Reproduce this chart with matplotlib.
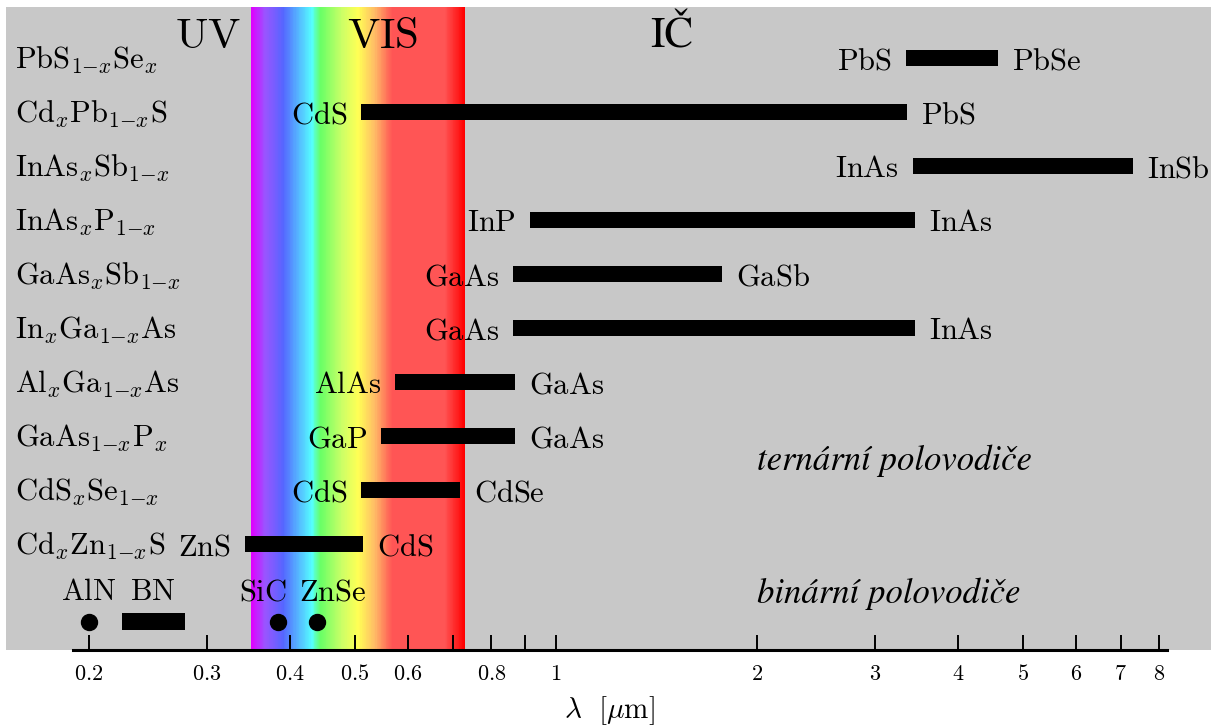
import numpy as np
import matplotlib
matplotlib.use("Agg")
import matplotlib.pyplot as plt
from matplotlib.colors import LinearSegmentedColormap

plt.rcParams["mathtext.fontset"] = "cm"

# ternary semiconductors, top row first
TERNARY_NAMES = [
    r"$\mathrm{PbS}_{1{-}x}\mathrm{Se}_x$",
    r"$\mathrm{Cd}_x\mathrm{Pb}_{1{-}x}\mathrm{S}$",
    r"$\mathrm{InAs}_x\mathrm{Sb}_{1{-}x}$",
    r"$\mathrm{InAs}_x\mathrm{P}_{1{-}x}$",
    r"$\mathrm{GaAs}_x\mathrm{Sb}_{1{-}x}$",
    r"$\mathrm{In}_x\mathrm{Ga}_{1{-}x}\mathrm{As}$",
    r"$\mathrm{Al}_x\mathrm{Ga}_{1{-}x}\mathrm{As}$",
    r"$\mathrm{GaAs}_{1{-}x}\mathrm{P}_x$",
    r"$\mathrm{CdS}_x\mathrm{Se}_{1{-}x}$",
    r"$\mathrm{Cd}_x\mathrm{Zn}_{1{-}x}\mathrm{S}$",
]
TERNARY_START = [3.34, 0.511, 3.42, 0.914, 0.862, 0.862, 0.574, 0.547, 0.511, 0.342]
TERNARY_END = [4.59, 3.35, 7.30, 3.45, 1.77, 3.45, 0.868, 0.868, 0.718, 0.514]
START_LABELS = ["PbS", "CdS", "InAs", "InP", "GaAs", "GaAs", "AlAs", "GaP", "CdS", "ZnS"]
END_LABELS = ["PbSe", "PbS", "InSb", "InAs", "GaSb", "InAs", "GaAs", "GaAs", "CdSe", "CdS"]

# binary semiconductors
DOT_NAMES = ["AlN", "SiC", "ZnSe"]
DOT_LAMBDA = [0.200, 0.384, 0.439]
BN_NAME = "BN"
BN_RANGE = [0.224, 0.278]

# visible spectrum colour stops
SPECTRUM_LAMBDA = [0.3495, 0.3667, 0.3903, 0.4312, 0.4432, 0.4782, 0.5053, 0.5358, 0.5682, 0.682, 0.731]
SPECTRUM_COLORS = ["#e000ff", "#9955ff", "#5566ff", "#55ffff", "#66ff66", "#ccff66",
                   "#ffff55", "#ffbb66", "#ff5555", "#ff5555", "#ff0000"]

REGION_NAMES = ["UV", "VIS", "IČ"]
REGION_LAMBDA = [0.301, 0.551, 1.49]

TICK_VALUES = [0.2, 0.3, 0.4, 0.5, 0.6, 0.7, 0.8, 0.9, 1, 2, 3, 4, 5, 6, 7, 8]
TICK_LABELS = ["0.2", "0.3", "0.4", "0.5", "0.6", "", "0.8", "", "1",
               "2", "3", "4", "5", "6", "7", "8"]

GRAY = "#c8c8c8"
LABEL_SIZE = 22
BASE = 0.205  # baseline shift below row centre (data units)

fig = plt.figure(figsize=(12.18, 7.27), dpi=100)
ax = fig.add_axes([6 / 1218, 77 / 727, 1205 / 1218, 643 / 727])
ax.set_facecolor(GRAY)
ax.set_xscale("log")
ax.set_xlim(0.1502, 9.562)
ax.set_ylim(10.963, -0.944)

# spectrum band
lo, hi = SPECTRUM_LAMBDA[0], SPECTRUM_LAMBDA[-1]
lg = np.log10(SPECTRUM_LAMBDA)
stops = [((v - lg[0]) / (lg[-1] - lg[0]), c) for v, c in zip(lg, SPECTRUM_COLORS)]
cmap = LinearSegmentedColormap.from_list("spec", stops)
xe = np.geomspace(lo, hi, 400)
xc = np.sqrt(xe[:-1] * xe[1:])
vals = ((np.log10(xc) - lg[0]) / (lg[-1] - lg[0]))[None, :]
ax.pcolormesh(xe, [-0.944, 10.963], vals, cmap=cmap, vmin=0, vmax=1,
              shading="flat", zorder=0.5, rasterized=True)

rows = np.arange(len(TERNARY_NAMES))
ax.barh(rows, np.array(TERNARY_END) - np.array(TERNARY_START), left=TERNARY_START,
        height=0.31, color="black", zorder=3)

ytrans = ax.get_yaxis_transform()
for i, name in enumerate(TERNARY_NAMES):
    ax.text(0.0075, i + BASE, name, transform=ytrans, fontsize=LABEL_SIZE,
            ha="left", va="baseline")
    ax.annotate(r"$\mathrm{%s}$" % START_LABELS[i], (TERNARY_START[i], i + BASE),
                xytext=(-10, 0), textcoords="offset points", fontsize=LABEL_SIZE,
                ha="right", va="baseline")
    ax.annotate(r"$\mathrm{%s}$" % END_LABELS[i], (TERNARY_END[i], i + BASE),
                xytext=(10, 0), textcoords="offset points", fontsize=LABEL_SIZE,
                ha="left", va="baseline")

# binary row
bin_y = 10.44
bin_label_y = 10.04
ax.plot(DOT_LAMBDA, [bin_y] * len(DOT_LAMBDA), "o", color="black", ms=11.5, zorder=3)
ax.barh([bin_y], [BN_RANGE[1] - BN_RANGE[0]], left=BN_RANGE[0], height=0.32,
        color="black", zorder=3)
dot_shift = [0, -11, 11]
for name, lam, dx in zip(DOT_NAMES, DOT_LAMBDA, dot_shift):
    ax.annotate(r"$\mathrm{%s}$" % name, (lam, bin_label_y), xytext=(dx, 0),
                textcoords="offset points", fontsize=LABEL_SIZE, ha="center",
                va="baseline")
ax.text(np.sqrt(BN_RANGE[0] * BN_RANGE[1]), bin_label_y, r"$\mathrm{%s}$" % BN_NAME,
        fontsize=LABEL_SIZE, ha="center", va="baseline")

# region names; Č is missing from the cm math font, so IČ uses STIX
for name, lam in zip(REGION_NAMES, REGION_LAMBDA):
    if name.isascii():
        ax.text(lam, -0.185, r"$\mathrm{%s}$" % name, fontsize=31, ha="center",
                va="baseline")
    else:
        ax.text(lam, -0.185, name, family="STIXGeneral", fontsize=31, ha="center",
                va="baseline")

ax.text(2.0, 7.63, "ternární polovodiče", family="STIXGeneral", style="italic",
        fontsize=25, ha="left", va="baseline")
ax.text(2.0, 10.1, "binární polovodiče", family="STIXGeneral", style="italic",
        fontsize=25, ha="left", va="baseline")

# axis
for side in ("top", "left", "right"):
    ax.spines[side].set_visible(False)
ax.spines["bottom"].set_linewidth(2.2)
ax.spines["bottom"].set_bounds(0.189, 8.22)
ax.spines["bottom"].set_zorder(4)
ax.set_yticks([])
ax.set_xticks(TICK_VALUES)
ax.set_xticklabels([r"$%s$" % t if t else "" for t in TICK_LABELS], fontsize=16)
ax.xaxis.set_minor_locator(matplotlib.ticker.NullLocator())
ax.tick_params(axis="x", direction="in", length=10.5, width=1.4, pad=10, zorder=4)
ax.text(0.501, -0.106, r"$\lambda\ \ [\mu\mathrm{m}]$", transform=ax.transAxes,
        fontsize=21, ha="center", va="baseline")

fig.savefig("out.png", dpi=100, facecolor="white")
